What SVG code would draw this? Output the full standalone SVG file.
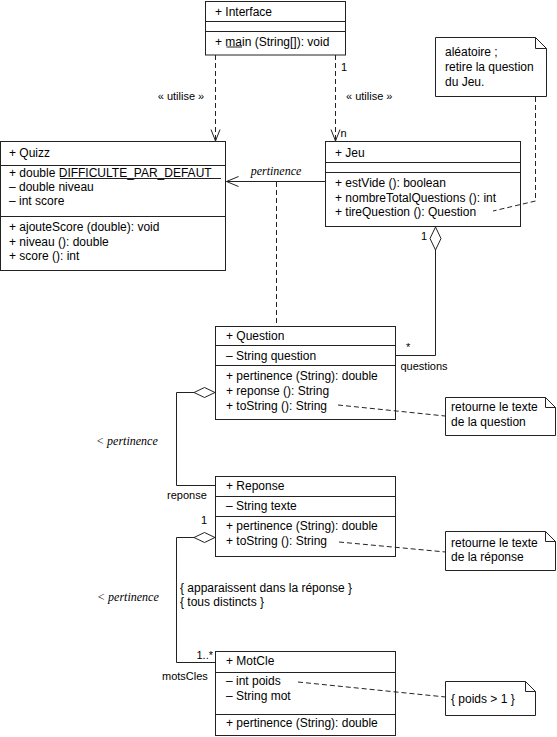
<svg xmlns="http://www.w3.org/2000/svg" width="557" height="737" viewBox="0 0 557 737">
<style>
.box{fill:#fff;stroke:#222;stroke-width:1}
.sep{stroke:#222;stroke-width:1}
.t{font-family:"Liberation Sans",Arial,sans-serif;font-size:12px;fill:#000}
.s{font-family:"Liberation Sans",Arial,sans-serif;font-size:11px;fill:#000}
.i{font-family:"Liberation Serif","Times New Roman",serif;font-size:12px;font-style:italic;fill:#000}
.ln{fill:none;stroke:#222;stroke-width:1}
.dash{fill:none;stroke:#222;stroke-width:1;stroke-dasharray:5,3}
.head{fill:none;stroke:#222;stroke-width:1}
.dia{fill:#fff;stroke:#222;stroke-width:1}
.note{fill:#fff;stroke:#222;stroke-width:1}
</style>
<rect width="557" height="737" fill="#fff"/>

<g id="Interface">
  <rect class="box" x="205.5" y="1.5" width="140" height="53.5"/>
  <line class="sep" x1="205.5" y1="21.5" x2="345.5" y2="21.5"/>
  <line class="sep" x1="205.5" y1="31.5" x2="345.5" y2="31.5"/>
  <text class="t" x="215" y="16">+ Interface</text>
  <text class="t" x="215" y="45.5">+ main (String[]): void</text>
  <line class="sep" x1="226.5" y1="47" x2="242" y2="47"/>
</g>

<g id="Quizz">
  <rect class="box" x="0.5" y="141.5" width="225" height="129"/>
  <line class="sep" x1="0.5" y1="165.5" x2="225.5" y2="165.5"/>
  <line class="sep" x1="0.5" y1="216.5" x2="225.5" y2="216.5"/>
  <text class="t" x="9" y="157">+ Quizz</text>
  <text class="t" x="9" y="177">+ double DIFFICULTE_PAR_DEFAUT</text>
  <line class="sep" x1="60" y1="178.5" x2="221" y2="178.5"/>
  <text class="t" x="9" y="191">– double niveau</text>
  <text class="t" x="9" y="205">– int score</text>
  <text class="t" x="9" y="231">+ ajouteScore (double): void</text>
  <text class="t" x="9" y="245.5">+ niveau (): double</text>
  <text class="t" x="9" y="260">+ score (): int</text>
</g>

<g id="Jeu">
  <rect class="box" x="325.5" y="141.5" width="195" height="85"/>
  <line class="sep" x1="325.5" y1="162.5" x2="520.5" y2="162.5"/>
  <line class="sep" x1="325.5" y1="172.5" x2="520.5" y2="172.5"/>
  <text class="t" x="335" y="157">+ Jeu</text>
  <text class="t" x="335" y="187">+ estVide (): boolean</text>
  <text class="t" x="335" y="201.5">+ nombreTotalQuestions (): int</text>
  <text class="t" x="335" y="216">+ tireQuestion (): Question</text>
</g>

<g id="Question">
  <rect class="box" x="215.5" y="326.5" width="180" height="93"/>
  <line class="sep" x1="215.5" y1="345.5" x2="395.5" y2="345.5"/>
  <line class="sep" x1="215.5" y1="365.5" x2="395.5" y2="365.5"/>
  <text class="t" x="226" y="340">+ Question</text>
  <text class="t" x="226" y="359.5">– String question</text>
  <text class="t" x="226" y="380">+ pertinence (String): double</text>
  <text class="t" x="226" y="395">+ reponse (): String</text>
  <text class="t" x="226" y="410">+ toString (): String</text>
</g>

<g id="Reponse">
  <rect class="box" x="215.5" y="476.5" width="180" height="80"/>
  <line class="sep" x1="215.5" y1="496.5" x2="395.5" y2="496.5"/>
  <line class="sep" x1="215.5" y1="516.5" x2="395.5" y2="516.5"/>
  <text class="t" x="226" y="490">+ Reponse</text>
  <text class="t" x="226" y="510">– String texte</text>
  <text class="t" x="226" y="530">+ pertinence (String): double</text>
  <text class="t" x="226" y="545">+ toString (): String</text>
</g>

<g id="MotCle">
  <rect class="box" x="215.5" y="651.5" width="180" height="84"/>
  <line class="sep" x1="215.5" y1="672.5" x2="395.5" y2="672.5"/>
  <line class="sep" x1="215.5" y1="714.5" x2="395.5" y2="714.5"/>
  <text class="t" x="226" y="665">+ MotCle</text>
  <text class="t" x="226" y="685">– int poids</text>
  <text class="t" x="226" y="700">– String mot</text>
  <text class="t" x="226" y="727">+ pertinence (String): double</text>
</g>

<g id="note-tireQuestion">
  <path class="note" d="M435.5,37.5 H535.5 L546.5,48.5 V96.5 H435.5 Z"/>
  <path class="ln" d="M535.5,37.5 V48.5 H546.5"/>
  <text class="t" x="445" y="56">aléatoire ;</text>
  <text class="t" x="445" y="71">retire la question</text>
  <text class="t" x="445" y="86">du Jeu.</text>
</g>

<g id="note-question">
  <path class="note" d="M445.5,397.5 H545.5 L555.5,407.5 V435.5 H445.5 Z"/>
  <path class="ln" d="M545.5,397.5 V407.5 H555.5"/>
  <text class="t" x="451" y="411">retourne le texte</text>
  <text class="t" x="451" y="426">de la question</text>
</g>

<g id="note-reponse">
  <path class="note" d="M445.5,531.5 H545.5 L555.5,541.5 V570.5 H445.5 Z"/>
  <path class="ln" d="M545.5,531.5 V541.5 H555.5"/>
  <text class="t" x="451" y="546.5">retourne le texte</text>
  <text class="t" x="451" y="561">de la réponse</text>
</g>

<g id="note-poids">
  <path class="note" d="M445.5,681.5 H525.5 L535.5,691.5 V715.5 H445.5 Z"/>
  <path class="ln" d="M525.5,681.5 V691.5 H535.5"/>
  <text class="t" x="451" y="703">{ poids &gt; 1 }</text>
</g>

<g id="connectors">
  <!-- Interface -> Quizz -->
  <line class="dash" x1="215.5" y1="55" x2="215.5" y2="140"/>
  <polyline class="head" points="211,129.5 215.5,141 220,129.5"/>
  <!-- Interface -> Jeu -->
  <line class="dash" x1="335.5" y1="55" x2="335.5" y2="140"/>
  <polyline class="head" points="331,129.5 335.5,141 340,129.5"/>
  <!-- Jeu -> Quizz pertinence -->
  <line class="ln" x1="325" y1="181.5" x2="226.5" y2="181.5"/>
  <polyline class="head" points="238.5,176.5 226.5,181.5 238.5,186.5"/>
  <!-- association class dashed -->
  <line class="dash" x1="276.5" y1="182" x2="276.5" y2="326"/>
  <!-- Jeu aggregation questions -->
  <polyline class="ln" points="435.5,250 435.5,355.5 396,355.5"/>
  <polygon class="dia" points="435.5,227 441,238.5 435.5,250 430,238.5"/>
  <!-- Question aggregation reponse -->
  <polyline class="ln" points="194,392.5 176.5,392.5 176.5,485.5 215,485.5"/>
  <polygon class="dia" points="215,392.5 204.5,387.5 194,392.5 204.5,397.5"/>
  <!-- Reponse aggregation motsCles -->
  <polyline class="ln" points="194,537.5 176.5,537.5 176.5,662.5 215,662.5"/>
  <polygon class="dia" points="215,537.5 204.5,532.5 194,537.5 204.5,542.5"/>
  <!-- note links -->
  <polyline class="dash" points="535.5,97 535.5,201 493,211"/>
  <line class="dash" x1="338" y1="405" x2="445" y2="416"/>
  <line class="dash" x1="339" y1="542" x2="445.5" y2="552"/>
  <line class="dash" x1="298" y1="682" x2="445.5" y2="697"/>
  <!-- labels -->
  <text class="s" x="181" y="100" text-anchor="middle">« utilise »</text>
  <text class="s" x="346" y="100">« utilise »</text>
  <text class="s" x="341" y="71">1</text>
  <text class="s" x="340.5" y="137">n</text>
  <text class="i" x="276" y="175" text-anchor="middle">pertinence</text>
  <text class="s" x="421" y="240">1</text>
  <text class="s" x="406" y="351" font-size="9">*</text>
  <text class="s" x="400.5" y="370">questions</text>
  <text class="i" x="96" y="444.5">&lt; pertinence</text>
  <text class="s" x="167" y="499">reponse</text>
  <text class="s" x="201" y="524">1</text>
  <text class="t" x="180" y="592">{ apparaissent dans la réponse }</text>
  <text class="t" x="180" y="606">{ tous distincts }</text>
  <text class="i" x="97" y="601">&lt; pertinence</text>
  <text class="s" x="213" y="659" text-anchor="end">1..*</text>
  <text class="s" x="162" y="680">motsCles</text>
</g>
</svg>
